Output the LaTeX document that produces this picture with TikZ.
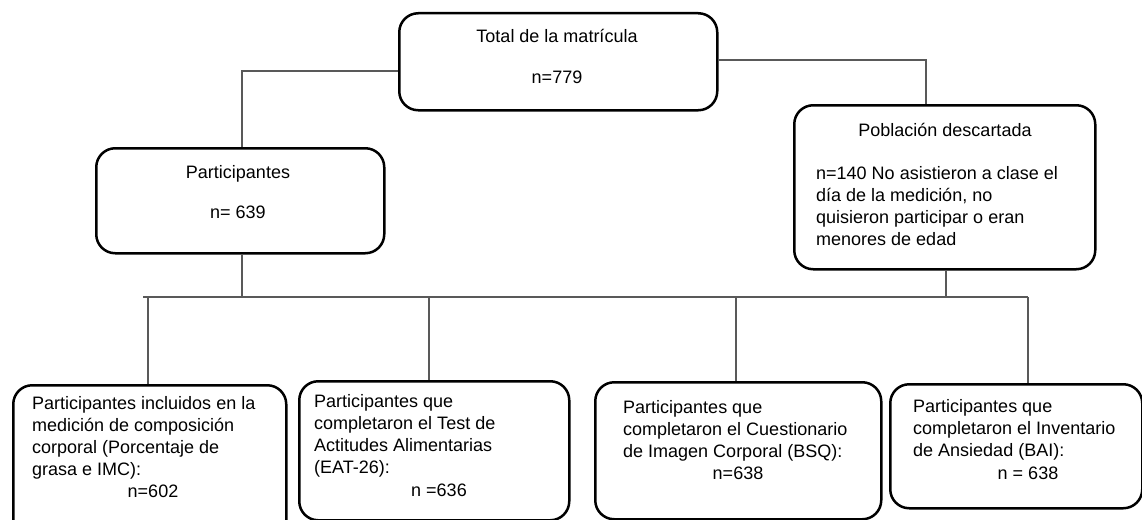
\documentclass[tikz,border=0pt]{standalone}
\usepackage{fontspec}
\setmainfont{Liberation Sans}
\begin{document}
\begin{tikzpicture}[x=1pt,y=-1pt,
  box/.style={draw=black, line width=2.5pt, rounded corners=19pt, inner sep=0pt, anchor=north west},
  conn/.style={draw=black!65, line width=1.1pt},
  txt/.style={inner sep=0pt, font=\fontsize{18}{21.7}\selectfont},
  tl/.style={txt, anchor=base west},
  tc/.style={txt, anchor=base}]
\useasboundingbox (0,0) rectangle (1142,519);
\clip (0,0) rectangle (1142,519);

% boxes
\node[box, minimum width=318pt, minimum height=97pt] (top) at (398,12) {};
\node[box, minimum width=288pt, minimum height=105pt] (part) at (95,147) {};
\node[box, minimum width=301pt, minimum height=164pt] (desc) at (793,104) {};
\node[box, minimum width=273pt, minimum height=160pt] (b1) at (12,384) {};
\node[box, minimum width=270pt, minimum height=139pt] (b2) at (298,380) {};
\node[box, minimum width=286pt, minimum height=137pt] (b3) at (594,381) {};
\node[box, minimum width=252pt, minimum height=124pt] (b4) at (889,383) {};

% texts
\node[tc] (topa) at (557,43) {Total de la matrícula};
\node[tc] (topb) at (557,83) {n=779};
\node[tc] (parta) at (238,178) {Participantes};
\node[tc] (partb) at (238,218) {n= 639};
\node[tc] (desca) at (945,136) {Población descartada};
\node[tl] (descb) at (816,179) {n=140 No asistieron a clase el};
\node[tl] (descc) at (816,201) {día de la medición, no};
\node[tl] (descd) at (816,223) {quisieron participar o eran};
\node[tl] (desce) at (816,245) {menores de edad};

\node[tl] (b1a) at (32,409) {Participantes incluidos en la};
\node[tl] (b1b) at (32,431) {medición de composición};
\node[tl] (b1c) at (32,453) {corporal (Porcentaje de};
\node[tl] (b1d) at (32,475) {grasa e IMC):};
\node[tc] (b1e) at (153,497) {n=602};

\node[tl] (b2a) at (314,407) {Participantes que};
\node[tl] (b2b) at (314,429) {completaron el Test de};
\node[tl] (b2c) at (314,451) {Actitudes Alimentarias};
\node[tl] (b2d) at (314,473) {(EAT-26):};
\node[tc] (b2e) at (439,496) {n =636};

\node[tl] (b3a) at (623,413) {Participantes que};
\node[tl] (b3b) at (623,435) {completaron el Cuestionario};
\node[tl] (b3c) at (623,457) {de Imagen Corporal (BSQ):};
\node[tc] (b3d) at (738,479) {n=638};

\node[tl] (b4a) at (913,412) {Participantes que};
\node[tl] (b4b) at (913,434) {completaron el Inventario};
\node[tl] (b4c) at (913,456) {de Ansiedad (BAI):};
\node[tc] (b4d) at (1028,479) {n = 638};

% connector points
\coordinate (lt) at (242,71);
\coordinate (rt) at (926,60);
\coordinate (busL) at (143,297);
\coordinate (busR) at (1028,297);
\coordinate (d1) at (148,297);
\coordinate (d2) at (429,297);
\coordinate (d3) at (736,297);
\coordinate (d4) at (1028,297);
\coordinate (pc) at (242,297);
\coordinate (dc) at (946,297);

\draw[conn] (top.west |- lt) -- (lt) -- (lt |- part.north);
\draw[conn] (top.east |- rt) -- (rt) -- (rt |- desc.north);
\draw[conn] (lt |- part.south) -- (pc);
\draw[conn] (dc |- desc.south) -- (dc);
\draw[conn] (busL) -- (busR);
\draw[conn] (d1) -- (d1 |- b1.north);
\draw[conn] (d2) -- (d2 |- b2.north);
\draw[conn] (d3) -- (d3 |- b3.north);
\draw[conn] (d4) -- (d4 |- b4.north);
\end{tikzpicture}
\end{document}
